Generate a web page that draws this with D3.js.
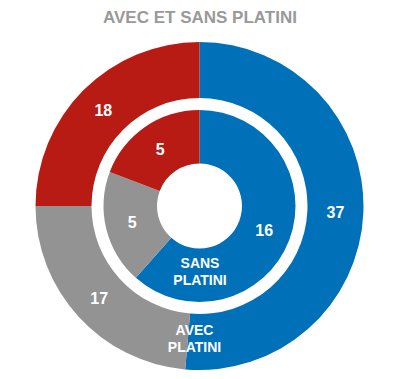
<!DOCTYPE html>
<html>
<head>
<meta charset="utf-8">
<script src="https://cdn.jsdelivr.net/npm/d3@7"></script>
<style>
  body { margin: 0; background: #fff; }
  svg text { font-family: "Liberation Sans", Arial, sans-serif; font-weight: bold; }
</style>
</head>
<body>
<div id="chart"></div>
<script>
var categories = ['Victoires', 'Nuls', 'Défaites'];
var avecPlatini = [37, 17, 18];
var sansPlatini = [16, 5, 5];
var colors = ['#0071b8', '#939393', '#b81b13'];

var width = 400, height = 379;
var cx = 199.5, cy = 206;

var svg = d3.select('#chart')
    .append('svg')
    .attr('width', width)
    .attr('height', height);

svg.append('text')
    .attr('x', 200)
    .attr('y', 23)
    .attr('text-anchor', 'middle')
    .attr('fill', '#999')
    .attr('font-size', 17)
    .text('AVEC ET SANS PLATINI');

var graph = svg.append('g').attr('transform', 'translate(' + cx + ',' + cy + ')');

var pie = d3.pie().sort(null).value(function(d) { return d; });

var rings = [
    { data: avecPlatini, inner: 108, outer: 164 },
    { data: sansPlatini, inner: 42.5, outer: 96 }
];

rings.forEach(function(ring) {
    var arc = d3.arc().innerRadius(ring.inner).outerRadius(ring.outer);
    var arcs = pie(ring.data);
    var g = graph.append('g');
    g.selectAll('path')
        .data(arcs)
        .enter().append('path')
        .attr('d', arc)
        .attr('fill', function(d, i) { return colors[i]; });
    g.selectAll('text')
        .data(arcs)
        .enter().append('text')
        .attr('transform', function(d) { return 'translate(' + arc.centroid(d) + ')'; })
        .attr('dy', '0.36em')
        .attr('text-anchor', 'middle')
        .attr('fill', '#fff')
        .attr('font-size', 16)
        .text(function(d) { return d.data; });
});

// ring names
var names = [
    { lines: ['SANS', 'PLATINI'], x: 0.5, y: 62 },
    { lines: ['AVEC', 'PLATINI'], x: -5, y: 129 }
];
names.forEach(function(n) {
    var t = graph.append('text')
        .attr('text-anchor', 'middle')
        .attr('fill', '#fff')
        .attr('font-size', 14);
    n.lines.forEach(function(l, i) {
        t.append('tspan')
            .attr('x', n.x)
            .attr('y', n.y + i * 17)
            .text(l);
    });
});
</script>
</body>
</html>
